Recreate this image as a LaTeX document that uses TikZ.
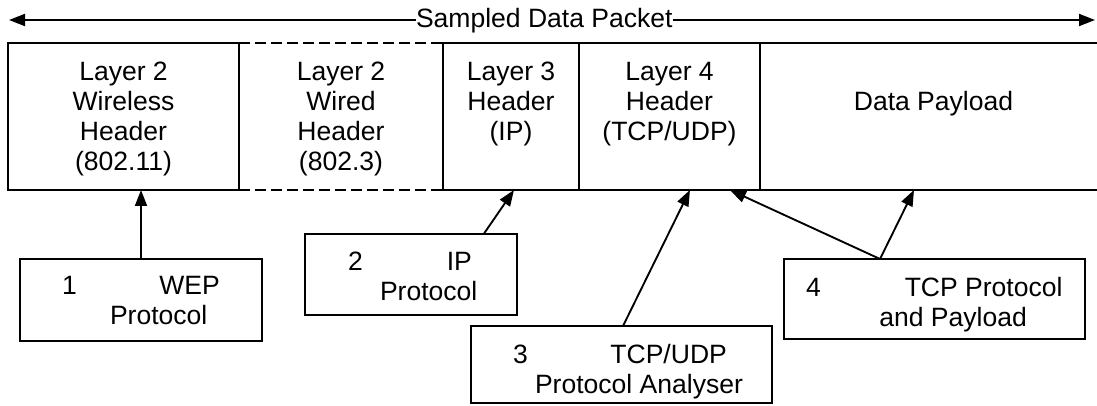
\documentclass[tikz,border=0pt]{standalone}
\usepackage{fontspec}
\setmainfont{Liberation Sans}
\usetikzlibrary{arrows.meta,calc}
\tikzset{
  box/.style={draw, line width=1.5pt, inner sep=0pt, outer sep=0pt, anchor=north west},
  dbox/.style={box, dash pattern=on 8pt off 4pt},
  txt/.style={inner sep=0pt, outer sep=0pt, align=center, font=\fontsize{19.9}{22.5}\selectfont},
  ltxt/.style={inner sep=0pt, outer sep=0pt, align=left, anchor=north west, font=\fontsize{19.9}{22.5}\selectfont},
  arr/.style={line width=1.4pt, -{Triangle[length=12pt,width=9pt]}},
}
\begin{document}
\begin{tikzpicture}[x=0.75pt,y=-0.75pt]
\useasboundingbox (0,0) rectangle (1097,406);
\clip (0,0) rectangle (1097,406);
% packet row
\node[dbox, minimum width=153pt, minimum height=110.25pt] (b2) at (239,43) {};
\node[box, minimum width=173.25pt, minimum height=110.25pt] (b1) at (8,43) {};
\node[box, minimum width=102pt, minimum height=110.25pt] (b3) at (443,43) {};
\node[box, minimum width=135.75pt, minimum height=110.25pt] (b4) at (579,43) {};
\node[box, minimum width=260.25pt, minimum height=110.25pt] (b5) at (760,43) {};
\node[txt, anchor=north] (t1) at (123.5,62) {Layer 2\\Wireless\\Header\\(802.11)};
\node[txt, anchor=north] (t2) at (341,62) {Layer 2\\Wired\\Header\\(802.3)};
\node[txt, anchor=north] (t3) at (511,62) {Layer 3\\Header\\(IP)};
\node[txt, anchor=north] (t4) at (669.5,62) {Layer 4\\Header\\(TCP/UDP)};
\node[txt, anchor=north] (t5) at (933.5,91) {Data Payload};
% top span arrow
\coordinate (L) at (9,20);
\coordinate (R) at (1095,20);
\node[txt, anchor=base west] (lbl) at (416,28) {Sampled Data Packet};
\draw[arr] (lbl.west |- L) -- (L);
\draw[arr] (lbl.east |- R) -- (R);
% lower boxes
\node[box, minimum width=181.5pt, minimum height=61.5pt] (p1) at (20,259) {};
\node[box, minimum width=159pt, minimum height=60.75pt] (p2) at (305,234) {};
\node[box, minimum width=225.75pt, minimum height=57.75pt] (p3) at (471,326) {};
\node[box, minimum width=225.75pt, minimum height=60pt] (p4) at (784,259) {};
\node[ltxt] (q1) at (62,276) {1\hspace{62pt}WEP\\\hspace{36pt}Protocol};
\node[ltxt] (q2) at (348,252) {2\hspace{63pt}IP\\\hspace{24pt}Protocol};
\node[ltxt] (q3) at (513,344) {3\hspace{62pt}TCP/UDP\\\hspace{16.5pt}Protocol Analyser};
\node[ltxt] (q4) at (806,277) {4\hspace{63pt}TCP Protocol\\\hspace{55pt}and Payload};
% connectors
\draw[arr] (p1.north) -- (p1.north |- b1.south);
\draw[arr] ($(p2.north west)!0.843!(p2.north east)$) -- ($(b3.south west)!0.522!(b3.south east)$);
\draw[arr] ($(p3.north west)!0.505!(p3.north east)$) -- ($(b4.south west)!0.613!(b4.south east)$);
\coordinate (p4top) at ($(p4.north west)!0.319!(p4.north east)$);
\draw[arr] (p4top) -- ($(b4.south west)!0.834!(b4.south east)$);
\draw[arr] (p4top) -- ($(b5.south west)+(154,0)$);
\end{tikzpicture}
\end{document}
